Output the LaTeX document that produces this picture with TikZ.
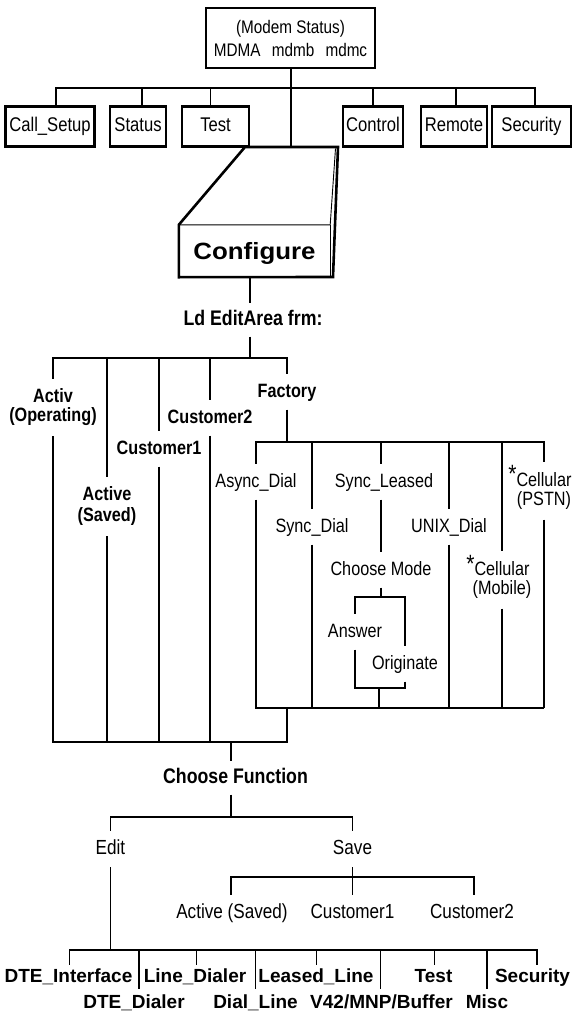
\documentclass[tikz,border=0pt]{standalone}
\usepackage{fontspec}
\setmainfont{Liberation Sans}[FakeStretch=0.84]
\newfontfamily\plainsans{Liberation Sans}
\newfontfamily\widesans{Liberation Sans}[FakeStretch=1.1]
\usetikzlibrary{calc}
\newcommand\fsz[1]{\fontsize{#1}{#1}\selectfont}
\newcommand\cellstar{\llap{\smash{\raisebox{3.5pt}{\fontsize{25}{25}\selectfont *}}}}

\begin{document}
\begin{tikzpicture}[x=1pt,y=-1pt,
  conn/.style={line width=1.2pt},
  tbox/.style={draw, line width=2.6pt, minimum height=40pt, inner xsep=2pt, inner ysep=0pt,
    text height=14pt, text depth=4pt, font=\fsz{19.8}},
  rl/.style={inner xsep=1pt, inner ysep=8.5pt, text height=14pt, text depth=4pt, font=\fsz{19.3}},
  bl/.style={rl, font=\fsz{19.3}\bfseries},
  rl2/.style={inner xsep=1pt, inner ysep=10pt, align=center, font=\fontsize{19.3}{19}\selectfont},
  bl2/.style={rl2, font=\fontsize{19.3}{19}\selectfont\bfseries},
  head/.style={inner xsep=1pt, inner ysep=7.5pt, text height=14pt, text depth=4pt, font=\fsz{21.1}\bfseries},
  ll/.style={inner xsep=1pt, inner ysep=8.5pt, text height=15pt, text depth=4pt, font=\fsz{20.4}},
  bot/.style={inner xsep=1pt, inner ysep=3pt, text height=14pt, text depth=4pt, font=\plainsans\bfseries\fsz{19}},
]
\path[use as bounding box] (0,0) rectangle (574,1027);

% ---------- modem status and top menu ----------
\node[draw, line width=2.6pt, minimum width=169pt, minimum height=60pt, inner sep=0pt,
      align=center, font=\fontsize{18.2}{23}\selectfont] (ms) at (290.5,38)
      {(Modem Status)\\MDMA\hspace{7pt} mdmb\hspace{7pt} mdmc};

\node[tbox, minimum width=89pt] (cs) at (50,126.5) {Call\_Setup};
\node[tbox, minimum width=56pt] (st) at (138,126.5) {Status};
\node[tbox, minimum width=67pt] (ts) at (215.5,126.5) {Test};
\node[tbox, minimum width=60pt] (ct) at (373,126.5) {Control};
\node[tbox, minimum width=66pt] (rm) at (454,126.5) {Remote};
\node[tbox, minimum width=79pt] (sc) at (531.5,126.5) {Security};

\coordinate (jtop) at (291,88);
\draw[conn] (ms.south -| jtop) -- (jtop);
\draw[conn] (jtop) -| ([xshift=6pt]cs.north);
\draw[conn] (jtop) -| ([xshift=4pt]st.north);
\draw[conn] (jtop) -| ([xshift=-5pt]ts.north);
\draw[conn] (jtop) -| (ct.north);
\draw[conn] (jtop) -| ([xshift=2pt]rm.north);
\draw[conn] (jtop) -| ([xshift=3.5pt]sc.north);

% ---------- Configure block ----------
\node[font=\widesans\fsz{23.5}\bfseries, minimum width=151pt, minimum height=52pt,
      inner sep=0pt, text height=20pt, text depth=4pt] (cfg) at (254.5,251) {Configure};
\coordinate (cbk1) at (245,147);
\coordinate (cbk2) at (338,147);
\coordinate (cfgtop) at (291,147);
\draw[line width=2.6pt, line join=miter] (cbk1) -- (cbk2) -- (333,277) -- (cfg.south west)
      -- (cfg.north west) -- cycle;
\draw[line width=0.9pt] (cfg.north west) -- (cfg.north east) -- (335.5,148.5);
\draw[line width=0.9pt] (cfg.north east) -- (cfg.south east);
\draw[conn] (jtop) -- (cfgtop);

% ---------- load edit area ----------
\node[head] (ld) at (253,320) {Ld EditArea frm:};
\coordinate (jld) at (250,358);
\draw[conn] (cfg.south -| jld) -- (ld.north -| jld);
\draw[conn] (ld.south -| jld) -- (jld);

\node[bl2] (activ) at (53,407.5) {Activ\\(Operating)};
\node[bl2, font=\fontsize{19.3}{21}\selectfont\bfseries] (actsv) at (107,506.5) {Active\\(Saved)};
\node[bl] (cust1) at (159,449) {Customer1};
\node[bl] (cust2) at (210,418) {Customer2};
\node[bl] (factory) at (287,392) {Factory};

\draw[conn] (jld) -| (activ.north);
\draw[conn] (jld) -| (actsv.north);
\draw[conn] (jld) -| (cust1.north);
\draw[conn] (jld) -| (cust2.north);
\draw[conn] (jld) -| (factory.north);

% ---------- factory branch ----------
\coordinate (jfac) at (287,442);
\draw[conn] (factory.south) -- (jfac);

\node[rl] (async) at (256,482) {Async\_Dial};
\node[rl] (syncd) at (312,527) {Sync\_Dial};
\node[rl] (syncl) at (384,482) {Sync\_Leased};
\node[rl] (unix) at (449,527) {UNIX\_Dial};
\node[rl2] (cellm) at (502,580) {\cellstar Cellular\\(Mobile)};
\node[rl2] (cellp) at (544,491) {\cellstar Cellular\\(PSTN)};
\node[rl] (cm) at (381,570) {Choose Mode};
\node[rl] (answer) at (355,632) {Answer};
\node[rl] (orig) at (405,664) {Originate};

\draw[conn] (jfac) -| (async.north);
\draw[conn] (jfac) -| (syncd.north);
\draw[conn] (jfac) -| (cm |- syncl.north);
\draw[conn] (jfac) -| (unix.north);
\draw[conn] (jfac) -| (cellm.north);
\draw[conn] (jfac) -| (cellp.north);
\draw[conn] (cm |- syncl.south) -- (cm.north);

\coordinate (jmode) at (381,597);
\draw[conn] (cm.south) -- (jmode);
\draw[conn] (jmode) -| (answer.north);
\draw[conn] (jmode) -| (orig.north);
\coordinate (jmb) at (379,688);
\draw[conn] (answer.south) |- (jmb);
\draw[conn] (orig.south) |- (jmb);

\coordinate (fbr) at (544,708);
\coordinate (fbj) at (287,708);
\draw[conn] (async.south) |- (fbr);
\draw[conn] (syncd.south) -- (syncd.south |- fbr);
\draw[conn] (jmb) -- (jmb |- fbr);
\draw[conn] (unix.south) -- (unix.south |- fbr);
\draw[conn] (cellm.south) -- (cellm.south |- fbr);
\draw[conn] (cellp.south) -- (fbr);

% ---------- choose function ----------
\coordinate (jcf) at (231,742);
\draw[conn] (activ.south) |- (jcf);
\draw[conn] (actsv.south) |- (jcf);
\draw[conn] (cust1.south) |- (jcf);
\draw[conn] (cust2.south) |- (jcf);
\draw[conn] (fbj) |- (jcf);

\node[head] (cf) at (235.5,778) {Choose Function};
\draw[conn] (jcf) -- (cf.north -| jcf);
\coordinate (jfun) at (231,817);
\draw[conn] (cf.south -| jfun) -- (jfun);

\node[ll] (edit) at (110.5,849) {Edit};
\node[ll] (save) at (352.5,849) {Save};
\draw[conn] (jfun) -| (edit.north);
\draw[conn] (jfun) -| (save.north);

\node[ll] (asv) at (232,913) {Active (Saved)};
\node[ll] (c1) at (352.5,913) {Customer1};
\node[ll] (c2) at (472,913) {Customer2};
\coordinate (jsave) at (352.5,877);
\draw[conn] (save.south) -- (c1.north);
\draw[conn] (jsave) -| ([xshift=-1pt]asv.north);
\draw[conn] (jsave) -| ([xshift=2pt]c2.north);

% ---------- edit menu ----------
\coordinate (jbot) at (110.5,950);
\draw[conn] (edit.south) -- (jbot);

\node[bot] (dtei) at (68.5,977) {DTE\_Interface};
\node[bot] (lined) at (195,977) {Line\_Dialer};
\node[bot] (leased) at (316,977) {Leased\_Line};
\node[bot] (test) at (433.5,977) {Test};
\node[bot] (secu) at (532.5,977) {Security};

\node[bot, inner ysep=5pt] (dted) at (134,1003) {DTE\_Dialer};
\node[bot, inner ysep=5pt] (dial) at (255.5,1003) {Dial\_Line};
\node[bot, inner ysep=5pt] (v42) at (381.5,1003) {V42/MNP/Buffer};
\node[bot, inner ysep=5pt] (misc) at (487,1003) {Misc};

\draw[conn] (jbot) -| ([xshift=1pt]dtei.north);
\draw[conn] (jbot) -| ([xshift=1.5pt]lined.north);
\draw[conn] (jbot) -| ([xshift=0.5pt]leased.north);
\draw[conn] (jbot) -| ([xshift=1.3pt]test.north);
\draw[conn] (jbot) -| ([xshift=4.5pt]secu.north);
\draw[conn] (jbot) -| ([xshift=5pt]dted.north);
\draw[conn] (jbot) -| (dial.north);
\draw[conn] (jbot) -| ([xshift=-0.8pt]v42.north);
\draw[conn] (jbot) -| (misc.north);
\end{tikzpicture}
\end{document}
